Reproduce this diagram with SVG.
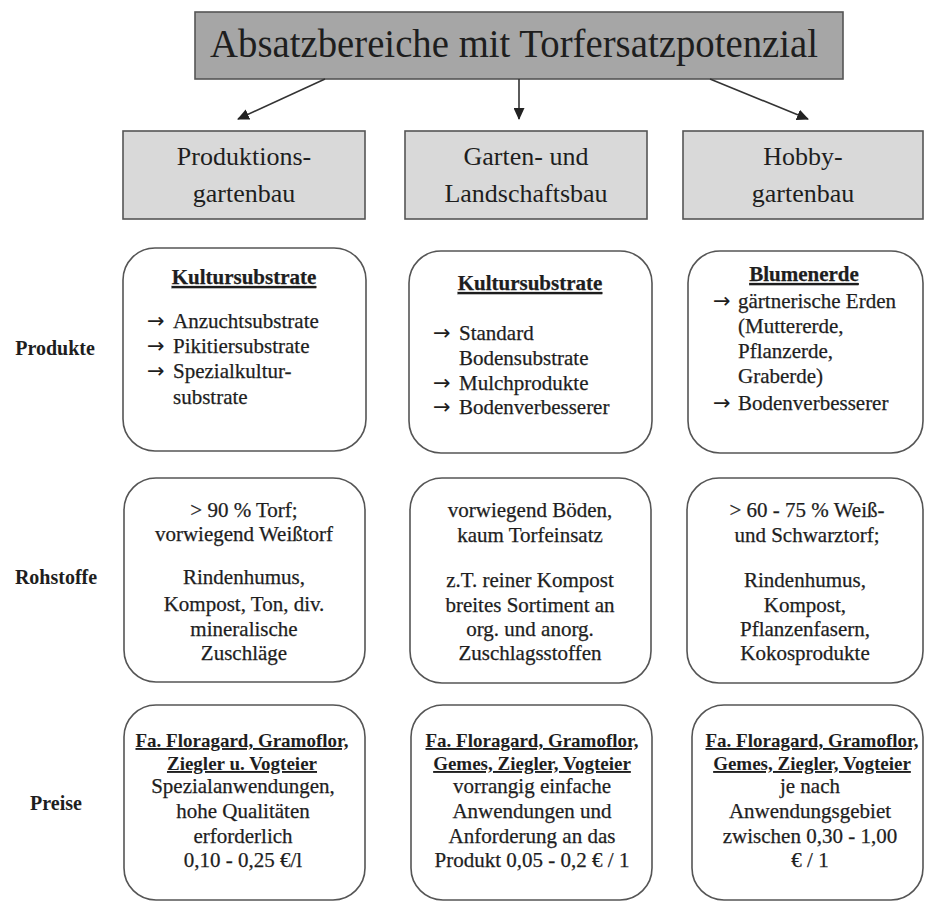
<svg xmlns="http://www.w3.org/2000/svg" width="926" height="903" viewBox="0 0 926 903">
<style>
text{font-family:"Liberation Serif","DejaVu Serif",serif;fill:#1e1e1e}
.t{font-size:40px}
.h{font-size:26px;text-anchor:middle}
.b{font-size:21px;stroke:#1e1e1e;stroke-width:0.25}
.c{text-anchor:middle}
.u{font-weight:bold;text-decoration:underline}
.ar{font-family:"DejaVu Sans",sans-serif;font-size:21px;stroke-width:0}
.lab{font-size:20px;font-weight:bold;text-anchor:middle}
.box{fill:#fff;stroke:#555;stroke-width:1.6}
.hdr{fill:#d9d9d9;stroke:#555;stroke-width:1.6}
.ttl{fill:#a6a6a6;stroke:#555;stroke-width:1.6}
.con{stroke:#333;stroke-width:1.6;fill:none}
</style>
<defs>
<marker id="ah" markerWidth="12" markerHeight="11" refX="11" refY="5.5" orient="auto" markerUnits="userSpaceOnUse">
<path d="M0,0 L12,5.5 L0,11 z" fill="#222"/>
</marker>
</defs>

<g id="title">
<rect class="ttl" x="195" y="12" width="648" height="67"/>
<text class="t" x="210" y="57" textLength="608" lengthAdjust="spacingAndGlyphs">Absatzbereiche mit Torfersatzpotenzial</text>
</g>

<g id="connectors">
<line class="con" x1="325" y1="79" x2="238" y2="119" marker-end="url(#ah)"/>
<line class="con" x1="519" y1="79" x2="519" y2="119" marker-end="url(#ah)"/>
<line class="con" x1="710" y1="79" x2="808" y2="119" marker-end="url(#ah)"/>
</g>

<g id="hdr1">
<rect class="hdr" x="123" y="131" width="242" height="88"/>
<text class="h" x="244" y="165">Produktions-</text>
<text class="h" x="244" y="202">gartenbau</text>
</g>
<g id="hdr2">
<rect class="hdr" x="405" y="131" width="242" height="88"/>
<text class="h" x="526" y="165">Garten- und</text>
<text class="h" x="526" y="202">Landschaftsbau</text>
</g>
<g id="hdr3">
<rect class="hdr" x="683" y="131" width="240" height="88"/>
<text class="h" x="803" y="165">Hobby-</text>
<text class="h" x="803" y="202">gartenbau</text>
</g>

<g id="labels">
<text class="lab" x="55" y="355">Produkte</text>
<text class="lab" x="56" y="584">Rohstoffe</text>
<text class="lab" x="56" y="810">Preise</text>
</g>

<g id="prod1">
<rect class="box" x="123" y="248" width="243" height="203" rx="32"/>
<text class="b c u" x="244" y="284">Kultursubstrate</text>
<text class="b" x="147" y="328"><tspan class="ar">→</tspan><tspan x="173">Anzuchtsubstrate</tspan></text>
<text class="b" x="147" y="353"><tspan class="ar">→</tspan><tspan x="173">Pikitiersubstrate</tspan></text>
<text class="b" x="147" y="378"><tspan class="ar">→</tspan><tspan x="173">Spezialkultur-</tspan></text>
<text class="b" x="173" y="404">substrate</text>
</g>
<g id="prod2">
<rect class="box" x="409" y="251" width="243" height="202" rx="32"/>
<text class="b c u" x="530" y="290">Kultursubstrate</text>
<text class="b" x="433" y="340"><tspan class="ar">→</tspan><tspan x="459">Standard</tspan></text>
<text class="b" x="459" y="365">Bodensubstrate</text>
<text class="b" x="433" y="390"><tspan class="ar">→</tspan><tspan x="459">Mulchprodukte</tspan></text>
<text class="b" x="433" y="414"><tspan class="ar">→</tspan><tspan x="459">Bodenverbesserer</tspan></text>
</g>
<g id="prod3">
<rect class="box" x="688" y="251" width="235" height="202" rx="32"/>
<text class="b c u" x="804" y="281">Blumenerde</text>
<text class="b" x="713" y="308"><tspan class="ar">→</tspan><tspan x="738">gärtnerische Erden</tspan></text>
<text class="b" x="738" y="333">(Muttererde,</text>
<text class="b" x="738" y="358">Pflanzerde,</text>
<text class="b" x="738" y="383">Graberde)</text>
<text class="b" x="713" y="410"><tspan class="ar">→</tspan><tspan x="738">Bodenverbesserer</tspan></text>
</g>

<g id="roh1">
<rect class="box" x="124" y="478" width="241" height="204" rx="32"/>
<text class="b c" x="244" y="517">&gt; 90 % Torf;</text>
<text class="b c" x="244" y="541">vorwiegend Weißtorf</text>
<text class="b c" x="244" y="584">Rindenhumus,</text>
<text class="b c" x="244" y="611">Kompost, Ton, div.</text>
<text class="b c" x="244" y="636">mineralische</text>
<text class="b c" x="244" y="660">Zuschläge</text>
</g>
<g id="roh2">
<rect class="box" x="410" y="478" width="241" height="205" rx="32"/>
<text class="b c" x="530" y="517">vorwiegend Böden,</text>
<text class="b c" x="530" y="542">kaum Torfeinsatz</text>
<text class="b c" x="530" y="587">z.T. reiner Kompost</text>
<text class="b c" x="530" y="612">breites Sortiment an</text>
<text class="b c" x="530" y="636">org. und anorg.</text>
<text class="b c" x="530" y="660">Zuschlagsstoffen</text>
</g>
<g id="roh3">
<rect class="box" x="687" y="478" width="236" height="205" rx="32"/>
<text class="b c" x="807" y="517">&gt; 60 - 75 % Weiß-</text>
<text class="b c" x="807" y="542">und Schwarztorf;</text>
<text class="b c" x="805" y="587">Rindenhumus,</text>
<text class="b c" x="805" y="612">Kompost,</text>
<text class="b c" x="805" y="636">Pflanzenfasern,</text>
<text class="b c" x="805" y="660">Kokosprodukte</text>
</g>

<g id="preis1">
<rect class="box" x="124" y="705" width="241" height="195" rx="32"/>
<text class="c u" style="font-size:19px" x="242" y="747">Fa. Floragard, Gramoflor,</text>
<text class="c u" style="font-size:19px" x="242" y="770">Ziegler u. Vogteier</text>
<text class="b c" x="243" y="793">Spezialanwendungen,</text>
<text class="b c" x="243" y="818">hohe Qualitäten</text>
<text class="b c" x="243" y="843">erforderlich</text>
<text class="b c" x="243" y="867">0,10 - 0,25 €/l</text>
</g>
<g id="preis2">
<rect class="box" x="411" y="705" width="241" height="195" rx="32"/>
<text class="c u" style="font-size:19px" x="532" y="747">Fa. Floragard, Gramoflor,</text>
<text class="c u" style="font-size:19px" x="532" y="770">Gemes, Ziegler, Vogteier</text>
<text class="b c" x="532" y="793">vorrangig einfache</text>
<text class="b c" x="532" y="818">Anwendungen und</text>
<text class="b c" x="532" y="843">Anforderung an das</text>
<text class="b c" x="532" y="867">Produkt 0,05 - 0,2 € / 1</text>
</g>
<g id="preis3">
<rect class="box" x="692" y="705" width="231" height="195" rx="32"/>
<text class="c u" style="font-size:19px" x="812" y="747">Fa. Floragard, Gramoflor,</text>
<text class="c u" style="font-size:19px" x="812" y="770">Gemes, Ziegler, Vogteier</text>
<text class="b c" x="810" y="793">je nach</text>
<text class="b c" x="810" y="818">Anwendungsgebiet</text>
<text class="b c" x="810" y="843">zwischen 0,30 - 1,00</text>
<text class="b c" x="810" y="867">€ / 1</text>
</g>
</svg>
